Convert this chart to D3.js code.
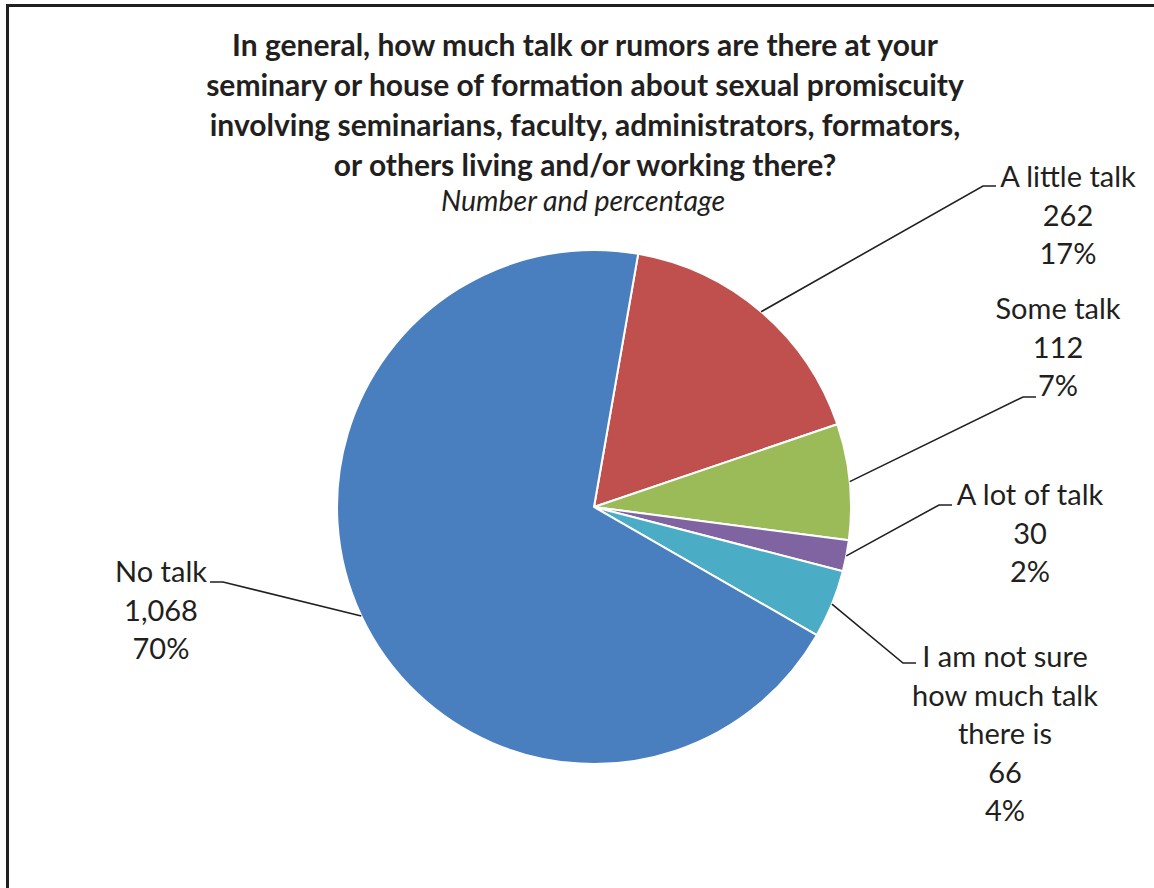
<!DOCTYPE html>
<html>
<head>
<meta charset="utf-8">
<script src="https://cdn.jsdelivr.net/npm/d3@7"></script>
<style>
  html, body { margin: 0; padding: 0; background: #fff; }
  svg { display: block; }
  text { font-family: Lato, "Open Sans", sans-serif; fill: #231f20; }
</style>
</head>
<body>
<svg id="chart" width="1154" height="888"></svg>
<script>
// ---- data ----
const categories = ["A little talk", "Some talk", "A lot of talk", "I am not sure how much talk there is", "No talk"];
const counts = [262, 112, 30, 66, 1068];
const percentLabels = ["17%", "7%", "2%", "4%", "70%"];
const colors = ["#C0504D", "#9BBB59", "#8064A2", "#4BACC6", "#4A7FBF"];
const titleLines = [
  "In general, how much talk or rumors are there at your",
  "seminary or house of formation about sexual promiscuity",
  "involving seminarians, faculty, administrators, formators,",
  "or others living and/or working there?"
];
const subtitle = "Number and percentage";

// ---- layout ----
const W = 1154, H = 888;
const cx = 594, cy = 507, R = 257;
const startDeg = 9.9;
const labelWrap = [["A little talk"], ["Some talk"], ["A lot of talk"], ["I am not sure", "how much talk", "there is"], ["No talk"]];
// elbow point of leader line, label centre x, first baseline y
const labelLayout = [
  { ex: 983, ey: 186, tx: 1068, ty: 187, dir: 1 },
  { ex: 1023, ey: 397, tx: 1058, ty: 319, dir: 1 },
  { ex: 939, ey: 505, tx: 1030, ty: 505, dir: 1 },
  { ex: 903, ey: 663, tx: 1005, ty: 667, dir: 1 },
  { ex: 223, ey: 582, tx: 161, ty: 582, dir: -1 }
];
const lineH = 38.5;

const svg = d3.select("#chart");
svg.append("rect").attr("width", W).attr("height", H).attr("fill", "#fff");

// border (chart area frame, clipped by the image at right/bottom)
svg.append("rect")
  .attr("x", 7.5).attr("y", 5.5)
  .attr("width", W + 20).attr("height", H + 20)
  .attr("fill", "none").attr("stroke", "#231f20").attr("stroke-width", 3);

// title
const title = svg.append("text").attr("text-anchor", "middle")
  .style("font-weight", "bold").style("font-size", "30px");
titleLines.forEach((t, i) => {
  title.append("tspan").attr("x", 585).attr("y", 56 + i * 40).text(t);
});
svg.append("text").attr("text-anchor", "middle")
  .attr("x", 583).attr("y", 211)
  .style("font-style", "italic").style("font-size", "28.5px")
  .text(subtitle);

// pie
const data = categories.map((c, i) => ({ cat: c, value: counts[i], pct: percentLabels[i], color: colors[i], i }));
const start = startDeg * Math.PI / 180;
const pie = d3.pie().value(d => d.value).sort(null)
  .startAngle(start).endAngle(start + 2 * Math.PI);
const arcs = pie(data);
const arc = d3.arc().innerRadius(0).outerRadius(R);

const g = svg.append("g").attr("transform", `translate(${cx},${cy})`);
g.selectAll("path.slice").data(arcs).join("path")
  .attr("class", "slice")
  .attr("d", arc)
  .attr("fill", d => d.data.color)
  .attr("stroke", "#fff")
  .attr("stroke-width", 2)
  .attr("stroke-linejoin", "round");

// leader lines
arcs.forEach((a, i) => {
  const mid = (a.startAngle + a.endAngle) / 2;
  const px = cx + R * Math.sin(mid);
  const py = cy - R * Math.cos(mid);
  const L = labelLayout[i];
  svg.append("polyline")
    .attr("points", `${px},${py} ${L.ex},${L.ey} ${L.ex + L.dir * 13},${L.ey}`)
    .attr("fill", "none").attr("stroke", "#231f20").attr("stroke-width", 1.6);

  const lines = labelWrap[i].concat([d3.format(",")(a.data.value), a.data.pct]);
  const t = svg.append("text").attr("text-anchor", "middle").style("font-size", "29px");
  lines.forEach((s, k) => {
    t.append("tspan").attr("x", L.tx).attr("y", L.ty + k * lineH).text(s);
  });
});
</script>
</body>
</html>
